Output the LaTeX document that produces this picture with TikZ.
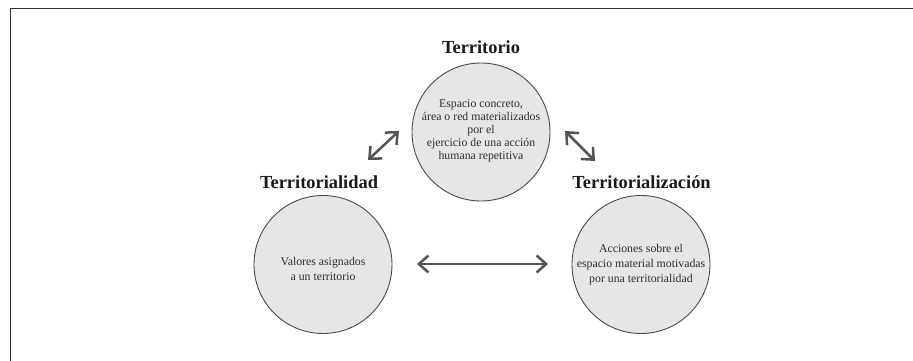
\documentclass[tikz,border=0pt]{standalone}
\usepackage{fontspec}
\setmainfont{Liberation Serif}
\usetikzlibrary{arrows.meta}
\definecolor{framegray}{HTML}{303030}
\definecolor{bubblefill}{HTML}{E6E6E8}
\definecolor{bubbleline}{HTML}{4A4A4A}
\definecolor{arrowgray}{HTML}{555555}
\definecolor{textgray}{HTML}{2E2E2E}
\definecolor{titleblack}{HTML}{1A1A1A}
\begin{document}
\begin{tikzpicture}[x=1pt,y=-1pt,
  bubble/.style={circle,draw=bubbleline,fill=bubblefill,line width=0.9pt,minimum size=138pt,inner sep=0pt},
  bodytext/.style={align=center,text=textgray,inner sep=0pt},
  titletext/.style={font=\fontsize{18.4}{20}\selectfont\bfseries,text=titleblack,inner sep=0pt,anchor=base},
  twoway/.style={draw=arrowgray,line width=2.5pt,{Straight Barb[length=9.5pt,width=17pt]}-{Straight Barb[length=9.5pt,width=17pt]}}
]
\useasboundingbox (0,0) rectangle (913,361);
\coordinate (frameBL) at (10.5,361);
\coordinate (frameTL) at (10.5,8.5);
\coordinate (frameTR) at (913,8.5);
\draw[framegray,line width=1.7pt] (frameBL) -- (frameTL) -- (frameTR);

% circles
\node[bubble] (terr) at (481,132) {};
\node[bubble] (terrdad) at (323,264.5) {};
\node[bubble] (terrcion) at (641,264.5) {};

% titles
\node[titletext] (tTerr) at (481,53.3) {Territorio};
\node[titletext] (tTerrdad) at (319,188) {Territorialidad};
\node[titletext] (tTerrcion) at (641.5,188) {Territorialización};

% body texts
\node[bodytext,font=\fontsize{11.8}{12.9}\selectfont] (bTerr) at (481,130.8)
  {Espacio concreto,\\área o red materializados\\por el\\ejercicio de una acción\\humana repetitiva};
\node[bodytext,font=\fontsize{11.8}{15.5}\selectfont] (bTerrdad) at (323,269)
  {Valores asignados\\a un territorio};
\node[bodytext,font=\fontsize{11.8}{15}\selectfont] (bTerrcion) at (641,264.3)
  {Acciones sobre el\\espacio material motivadas\\por una territorialidad};

% arrows
\coordinate (aLs) at (368,160);
\coordinate (aLe) at (399,131);
\coordinate (aRs) at (565,131);
\coordinate (aRe) at (595,161);
\coordinate (aHs) at (417,264);
\coordinate (aHe) at (548,264);
\draw[twoway] (aLs) -- (aLe);
\draw[twoway] (aRs) -- (aRe);
\draw[twoway] (aHs) -- (aHe);
\end{tikzpicture}
\end{document}
